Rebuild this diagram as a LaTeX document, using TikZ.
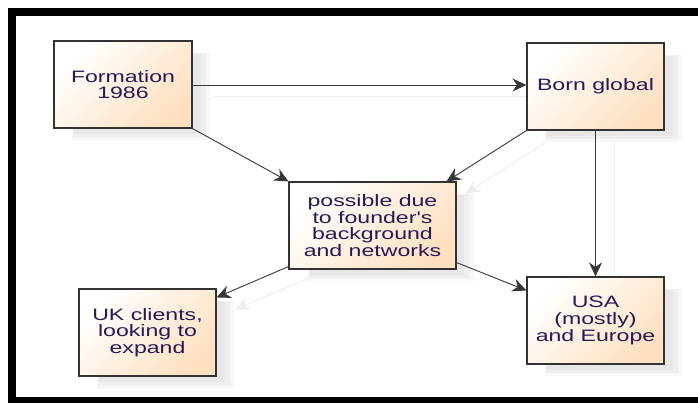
\documentclass[tikz,border=0pt]{standalone}
\usepackage{fontspec}
\setmainfont[FakeStretch=1.4,Ligatures=TeXOff]{Liberation Sans}
\usetikzlibrary{arrows.meta,shadows,calc}
\definecolor{peach}{RGB}{253,224,192}
\definecolor{txt}{RGB}{40,25,85}
\definecolor{edge}{RGB}{50,50,50}
\definecolor{ln}{RGB}{55,55,55}
\pgfdeclarelayer{bg}
\pgfdeclarelayer{shd}
\pgfsetlayers{bg,shd,main}
\begin{document}
\begin{tikzpicture}[x=1pt,y=-1pt,
  softshadow/.style={
    general shadow={fill=black,opacity=0.03,shadow xshift=18pt,shadow yshift=-12pt},
    general shadow={fill=black,opacity=0.03,shadow xshift=17pt,shadow yshift=-11pt,shadow scale=0.96},
    general shadow={fill=black,opacity=0.03,shadow xshift=16pt,shadow yshift=-10pt,shadow scale=0.92}},
  box/.style={softshadow, draw=edge, line width=1.1pt, top color=white, bottom color=peach,
    shading angle=45, minimum height=87pt, text=txt,
    font=\fontsize{16.5}{16.7}\selectfont, align=center, inner sep=0pt},
  conn/.style={draw=ln, line width=0.9pt, -{Stealth[length=14pt,width=13pt]}},
  ghost/.style={draw=black!7, line width=1pt, -{Stealth[length=14pt,width=13pt]}}
]
\useasboundingbox (0,0) rectangle (698,403);
\begin{pgfonlayer}{bg}
\fill[white] (0,0) rectangle (698,403);
\end{pgfonlayer}

\node[box, minimum width=138pt] (F) at (123,84.5) {Formation\\1986};
\node[box, minimum width=137pt] (B) at (595.5,86.5) {Born global};
\node[box, minimum width=167pt] (M) at (372.5,225.5) {possible due\\to founder's\\background\\and networks};
\node[box, minimum width=137pt] (K) at (147.5,332.5) {UK clients,\\looking to\\expand};
\node[box, minimum width=137pt] (U) at (595.5,320.5) {USA\\(mostly)\\and Europe};

\coordinate (fb) at ($(F.east)+(0,0.5)$);
\coordinate (mb) at ($(M.north east)+(-10,0)$);
\coordinate (ms1) at ($(M.south west)+(0,-3)$);
\coordinate (kt) at ($(K.north east)+(0,9)$);
\coordinate (ms2) at ($(M.south east)+(0,-7)$);
\coordinate (ut) at ($(U.north west)+(0,14)$);

\begin{pgfonlayer}{shd}
\begin{scope}[transform canvas={xshift=19pt,yshift=-12pt}]
\draw[ghost] (fb) -- (fb -| B.west);
\draw[ghost] (B.south west) -- (mb);
\draw[ghost] (B.south) -- (U.north);
\draw[ghost] (ms1) -- (kt);
\end{scope}
\end{pgfonlayer}

\draw[conn] (fb) -- (fb -| B.west);
\draw[conn] (F.south east) -- (M.north west);
\draw[conn] (B.south west) -- (mb);
\draw[conn] (B.south) -- (U.north);
\draw[conn] (ms1) -- (kt);
\draw[conn] (ms2) -- (ut);

\draw[line width=8pt] (12,12) rectangle (730,401);
\end{tikzpicture}
\end{document}
